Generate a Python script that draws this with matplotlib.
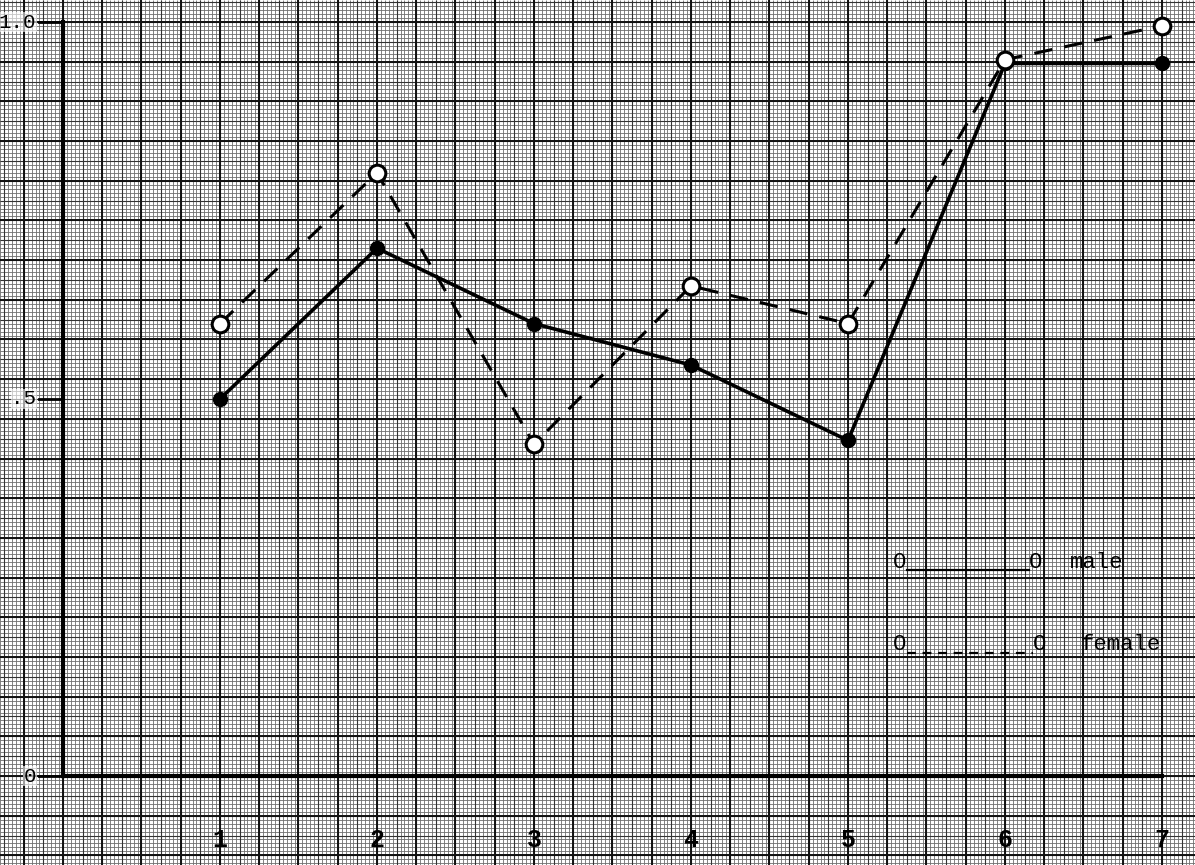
import numpy as np
import matplotlib
matplotlib.use("Agg")
import matplotlib.pyplot as plt
from matplotlib.collections import LineCollection

# ---- data ----
x_values = [1, 2, 3, 4, 5, 6, 7]
male = [0.50, 0.70, 0.60, 0.545, 0.445, 0.945, 0.945]
female = [0.60, 0.80, 0.44, 0.65, 0.60, 0.95, 0.995]
x_tick_labels = ["1", "2", "3", "4", "5", "6", "7"]
y_tick_values = [0, 0.5, 1.0]
y_tick_labels = ["0", ".5", "1.0"]

W, H = 1195, 865
fig = plt.figure(figsize=(W / 100, H / 100), dpi=100)
fig.patch.set_facecolor("white")

# ---- graph-paper background (pixel coordinates) ----
bg = fig.add_axes([0, 0, 1, 1])
bg.set_xlim(0, W)
bg.set_ylim(H, 0)
bg.axis("off")
x0_px, y0_px = 63, 776
unit_x = 157.0
unit_y = 754.0
maj_x = unit_x / 4
maj_y = unit_y / 19
segs_minor = []
for xv in np.arange(x0_px % (maj_x / 10), W, maj_x / 10):
    segs_minor.append([(xv, 0), (xv, H)])
for yv in np.arange(y0_px % (maj_y / 10), H, maj_y / 10):
    segs_minor.append([(0, yv), (W, yv)])
bg.add_collection(LineCollection(segs_minor, colors="#6e6e6e", linewidths=0.6))
segs_mid = []
for xv in np.arange(x0_px % (maj_x / 2), W, maj_x / 2):
    segs_mid.append([(xv, 0), (xv, H)])
for yv in np.arange(y0_px % (maj_y / 2), H, maj_y / 2):
    segs_mid.append([(0, yv), (W, yv)])
bg.add_collection(LineCollection(segs_mid, colors="#333333", linewidths=0.8))
segs_major = []
for xv in np.arange(x0_px % maj_x, W, maj_x):
    segs_major.append([(xv, 0), (xv, H)])
for yv in np.arange(y0_px % maj_y, H, maj_y):
    segs_major.append([(0, yv), (W, yv)])
bg.add_collection(LineCollection(segs_major, colors="#111111", linewidths=1.4))

# ---- main chart ----
ax = fig.add_axes([0, 0, 1, 1])
ax.patch.set_alpha(0)
ax.set_xlim(-x0_px / unit_x, (W - x0_px) / unit_x)
ax.set_ylim((y0_px - H) / unit_y, y0_px / unit_y)
ax.axis("off")

# axes lines
ax.plot([0, 0], [0, 1.0], color="black", lw=3, zorder=3)
ax.plot([0, 7], [0, 0], color="black", lw=3, zorder=3)
for yv in y_tick_values:
    ax.plot([-0.15, 0], [yv, yv], color="black", lw=2, zorder=3)

mono = "Liberation Mono"
for yv, lab in zip(y_tick_values, y_tick_labels):
    ax.text(-0.17, yv, lab, ha="right", va="center", fontsize=15,
            family=mono, color="black", zorder=4,
            bbox=dict(facecolor="white", edgecolor="none", pad=0.5, alpha=0.6))
for xv, lab in zip(x_values, x_tick_labels):
    ax.text(xv, -0.085, lab, ha="center", va="center", fontsize=18,
            family=mono, color="black", zorder=4, fontweight="bold")

# series
ax.plot(x_values, male, color="black", lw=2.6, marker="o", markersize=10,
        markerfacecolor="black", markeredgecolor="black", zorder=5)
ax.plot(x_values, female, color="black", lw=2.2, linestyle=(0, (6, 4)),
        marker="o", markersize=12, markerfacecolor="white",
        markeredgecolor="black", markeredgewidth=2.2, zorder=5)

# legend drawn as typewritten text
def px2d(px, py):
    return (px - x0_px) / unit_x, (y0_px - py) / unit_y

lx1, ly = px2d(900, 563)
lx2, _ = px2d(1036, 563)
ax.text(lx1, ly, "O", ha="center", va="center", fontsize=16, family=mono, zorder=6)
ax.text(lx2, ly, "O", ha="center", va="center", fontsize=16, family=mono, zorder=6)
a, b = px2d(907, 570)
c, _ = px2d(1029, 570)
ax.plot([a, c], [b, b], color="black", lw=1.6, zorder=6)
tx, _ = px2d(1070, 563)
ax.text(tx, ly, "male", ha="left", va="center", fontsize=16, family=mono, zorder=6)

lx1, ly2 = px2d(900, 645)
lx2, _ = px2d(1040, 645)
ax.text(lx1, ly2, "O", ha="center", va="center", fontsize=16, family=mono, zorder=6)
ax.text(lx2, ly2, "O", ha="center", va="center", fontsize=16, family=mono, zorder=6)
a, b = px2d(907, 653)
c, _ = px2d(1033, 653)
ax.plot([a, c], [b, b], color="black", lw=1.6, linestyle=(0, (4, 3)), zorder=6)
tx, _ = px2d(1080, 645)
ax.text(tx, ly2, "female", ha="left", va="center", fontsize=16, family=mono, zorder=6)

fig.savefig("out.png", dpi=100)
